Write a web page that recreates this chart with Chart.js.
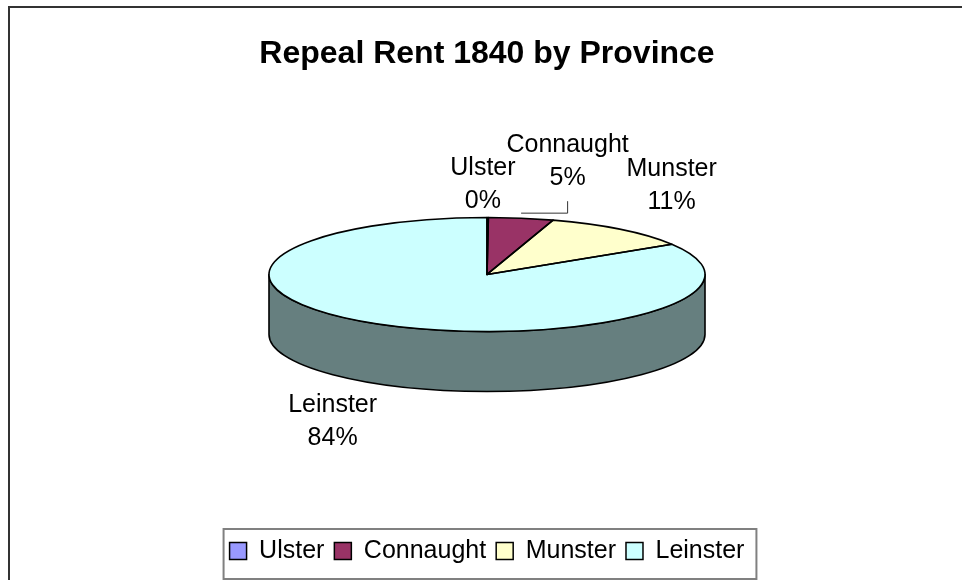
<!DOCTYPE html>
<html>
<head>
<meta charset="utf-8">
<style>
  html, body { margin: 0; padding: 0; background: #fff; }
  #wrap { width: 962px; height: 580px; }
</style>
<script src="https://cdn.jsdelivr.net/npm/chart.js@4/dist/chart.umd.min.js"></script>
</head>
<body>
<div id="wrap"><canvas id="repealChart" width="962" height="580"></canvas></div>
<script>
// data (percent of repeal rent)
const provinces = ['Ulster', 'Connaught', 'Munster', 'Leinster']
const shares = [0.1, 4.8, 11.2, 83.9]
const sliceColors = ['#9999FF', '#993366', '#FFFFCC', '#CCFFFF']

const fontFamily = "'Liberation Sans', Arial, Helvetica, sans-serif"
Chart.defaults.font.family = fontFamily
Chart.defaults.color = '#000'

// half-brightness shade for the pie wall
function darker(hex) {
    const n = parseInt(hex.slice(1), 16)
    return 'rgb(' + ((n >> 16) >> 1) + ',' + (((n >> 8) & 255) >> 1) + ',' + ((n & 255) >> 1) + ')'
}

function pieGeom(chart, opts) {
    const arc = chart.getDatasetMeta(0).data[0]
    const rx = arc.outerRadius
    return {
        x: arc.x,
        cy: arc.y,
        y: arc.y - opts.depth / 2,
        rx: rx,
        ry: rx * opts.tilt,
        depth: opts.depth
    }
}

// fake 3D: draw the wall, squash the library's pie, then outline + label
const pie3d = {
    id: 'pie3d',
    beforeDraw(chart, args, opts) {
        const ctx = chart.ctx
        ctx.save()
        ctx.fillStyle = '#fff'
        ctx.fillRect(0, 0, chart.width, chart.height)
        ctx.strokeStyle = '#333'
        ctx.lineWidth = 2
        ctx.strokeRect(9, 7, chart.width + 20, chart.height + 20)
        ctx.restore()
    },
    beforeDatasetsDraw(chart, args, opts) {
        const ctx = chart.ctx
        const arcs = chart.getDatasetMeta(0).data
        const g = pieGeom(chart, opts)
        ctx.save()
        ctx.lineWidth = opts.lineWidth
        ctx.strokeStyle = '#000'
        ctx.lineJoin = 'round'
        arcs.forEach((arc, i) => {
            const a0 = Math.max(arc.startAngle, 0)
            const a1 = Math.min(arc.endAngle, Math.PI)
            if (a1 <= a0) return
            ctx.beginPath()
            ctx.ellipse(g.x, g.y, g.rx, g.ry, 0, a0, a1)
            ctx.lineTo(g.x + g.rx * Math.cos(a1), g.y + g.depth + g.ry * Math.sin(a1))
            ctx.ellipse(g.x, g.y + g.depth, g.rx, g.ry, 0, a1, a0, true)
            ctx.closePath()
            ctx.fillStyle = darker(sliceColors[i])
            ctx.fill()
            ctx.stroke()
        })
        ctx.restore()
        // squash top face into an ellipse
        ctx.save()
        ctx.translate(0, g.y)
        ctx.scale(1, opts.tilt)
        ctx.translate(0, -g.cy)
    },
    afterDatasetsDraw(chart, args, opts) {
        const ctx = chart.ctx
        ctx.restore()
        const arcs = chart.getDatasetMeta(0).data
        const g = pieGeom(chart, opts)
        ctx.save()
        ctx.lineWidth = opts.lineWidth
        ctx.strokeStyle = '#000'
        ctx.lineJoin = 'round'
        arcs.forEach(arc => {
            ctx.beginPath()
            ctx.moveTo(g.x, g.y)
            ctx.ellipse(g.x, g.y, g.rx, g.ry, 0, arc.startAngle, arc.endAngle)
            ctx.closePath()
            ctx.stroke()
        })

        // data labels: name + percent
        const values = chart.data.datasets[0].data
        const total = values.reduce((s, v) => s + v, 0)
        ctx.font = opts.labelSize + 'px ' + fontFamily
        ctx.fillStyle = '#000'
        ctx.textAlign = 'center'
        ctx.textBaseline = 'middle'
        arcs.forEach((arc, i) => {
            const mid = (arc.startAngle + arc.endAngle) / 2
            const c = Math.cos(mid), s = Math.sin(mid)
            const shift = opts.labelShift[i] || [0, 0]
            const ex = g.x + g.rx * c
            const ey = g.y + g.ry * s
            const lx = g.x + (g.rx + opts.labelGapX) * c + shift[0]
            const ly = g.y + (g.ry + opts.labelGapY) * s + (s > 0 ? g.depth : 0) + shift[1]
            const half = opts.labelLine / 2
            ctx.fillText(chart.data.labels[i], lx, ly - half)
            ctx.fillText(Math.round(values[i] / total * 100) + '%', lx, ly + half)
            if (opts.leader[i]) {
                // leader line back to the slice
                ctx.save()
                ctx.lineWidth = 1
                ctx.strokeStyle = '#333'
                ctx.beginPath()
                ctx.moveTo(lx, ly + half + 23)
                ctx.lineTo(lx, ey - 5)
                ctx.lineTo(ex, ey - 5)
                ctx.stroke()
                ctx.restore()
            }
        })
        ctx.restore()
    },
    afterDraw(chart) {
        // frame round the legend
        const hb = chart.legend.legendHitBoxes
        if (!hb || !hb.length) return
        const first = hb[0], last = hb[hb.length - 1]
        const midY = first.top + first.height / 2
        const ctx = chart.ctx
        ctx.save()
        ctx.strokeStyle = '#808080'
        ctx.lineWidth = 2
        ctx.strokeRect(first.left - 6, midY - 22, last.left + last.width - first.left + 18, 50)
        ctx.restore()
    }
}

const defaultLabels = Chart.overrides.pie.plugins.legend.labels.generateLabels

const myChart = new Chart(document.getElementById('repealChart'), {
    type: 'pie',
    data: {
        labels: provinces,
        datasets: [{
            data: shares,
            backgroundColor: sliceColors,
            borderWidth: 0,
            radius: 218
        }]
    },
    options: {
        responsive: false,
        animation: false,
        events: [],
        layout: { padding: { left: 12, right: 0, top: 0, bottom: 6.5 } },
        plugins: {
            title: {
                display: true,
                text: 'Repeal Rent 1840 by Province',
                font: { size: 32, weight: 'bold' },
                color: '#000',
                padding: { top: 35, bottom: 7 }
            },
            legend: {
                position: 'bottom',
                labels: {
                    font: { size: 25 },
                    color: '#000',
                    boxWidth: 17,
                    boxHeight: 17,
                    padding: 10,
                    generateLabels(chart) {
                        return defaultLabels(chart).map(item => {
                            item.strokeStyle = '#000'
                            item.lineWidth = 1.5
                            return item
                        })
                    }
                }
            },
            tooltip: { enabled: false },
            pie3d: {
                tilt: 0.2615,
                depth: 60,
                lineWidth: 1.6,
                labelSize: 25,
                labelLine: 33,
                labelGapX: 80,
                labelGapY: 45,
                labelShift: { 0: [-5, 12], 1: [34, -12], 2: [2, -8], 3: [-10, -2] },
                leader: { 1: true }
            }
        }
    },
    plugins: [pie3d]
})
</script>
</body>
</html>
